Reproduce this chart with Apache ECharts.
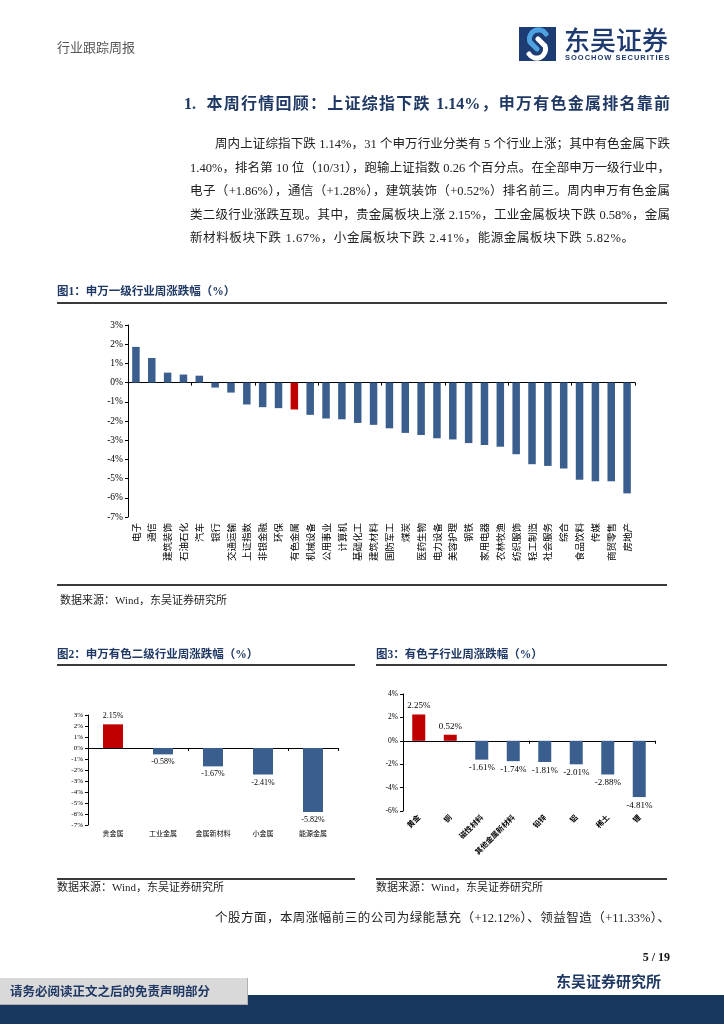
<!DOCTYPE html>
<html>
<head>
<meta charset="utf-8">
<script src="https://cdn.jsdelivr.net/npm/echarts@6/dist/echarts.min.js"></script>
<style>
html,body{margin:0;padding:0;background:#fff;}
body{width:724px;height:1024px;position:relative;overflow:hidden;font-family:"Liberation Serif","Noto Sans CJK SC",serif;}
#chart{position:absolute;left:0;top:0;width:724px;height:1024px;}
.t{position:absolute;white-space:nowrap;z-index:2;}
.j{text-align:justify;text-align-last:justify;}
.rule{position:absolute;background:#3a3a3a;z-index:2;}
.navy{color:#1F3864;}
</style>
</head>
<body>
<div id="chart"></div>

<div class="t" style="left:57px;top:38px;font-size:13px;line-height:18px;color:#555;font-family:'Noto Sans CJK SC';">行业跟踪周报</div>
<svg class="t" style="left:519px;top:27px;" width="37" height="34" viewBox="0 0 37 34">
  <rect width="37" height="34" fill="#1C3C73"/>
  <path d="M27 7 A9 9 0 0 0 11 15 L18 22" stroke="#4FA3E0" stroke-width="5" fill="none" stroke-linecap="round"/>
  <path d="M10 27 A9 9 0 0 0 26 19 L19 12" stroke="#FFFFFF" stroke-width="5" fill="none" stroke-linecap="round"/>
</svg>
<div class="t navy" style="left:564px;top:24px;font-size:26px;line-height:30px;font-family:'Noto Sans CJK SC';font-weight:500;color:#1E3A6E;">东吴证券</div>
<div class="t navy" style="left:565px;top:53px;font-size:7.5px;line-height:9px;font-family:'Liberation Sans';font-weight:bold;letter-spacing:1px;color:#1E3A6E;">SOOCHOW SECURITIES</div>

<div class="t navy j" style="left:184px;width:486px;top:92px;font-size:16px;line-height:24px;font-weight:bold;">1.&nbsp;&nbsp;本周行情回顾：上证综指下跌 1.14%，申万有色金属排名靠前</div>

<div class="t j" style="left:215px;width:455px;top:133px;font-size:12.5px;line-height:22px;color:#222;">周内上证综指下跌 1.14%，31 个申万行业分类有 5 个行业上涨；其中有色金属下跌</div>
<div class="t j" style="left:190px;width:480px;top:156.5px;font-size:12.5px;line-height:22px;color:#222;">1.40%，排名第 10 位（10/31），跑输上证指数 0.26 个百分点。在全部申万一级行业中，</div>
<div class="t j" style="left:190px;width:480px;top:180px;font-size:12.5px;line-height:22px;color:#222;">电子（+1.86%），通信（+1.28%），建筑装饰（+0.52%）排名前三。周内申万有色金属</div>
<div class="t j" style="left:190px;width:480px;top:203.5px;font-size:12.5px;line-height:22px;color:#222;">类二级行业涨跌互现。其中，贵金属板块上涨 2.15%，工业金属板块下跌 0.58%，金属</div>
<div class="t" style="left:190px;top:227px;font-size:12.5px;line-height:22px;color:#222;letter-spacing:0.6px;">新材料板块下跌 1.67%，小金属板块下跌 2.41%，能源金属板块下跌 5.82%。</div>

<div class="t navy" style="left:57px;top:283px;font-size:11.5px;line-height:16px;font-weight:bold;">图1：申万一级行业周涨跌幅（%）</div>
<div class="rule" style="left:57px;top:302px;width:610px;height:2px;"></div>
<div class="rule" style="left:57px;top:584px;width:610px;height:1.5px;"></div>
<div class="t" style="left:60px;top:592px;font-size:11px;line-height:16px;color:#222;">数据来源：Wind，东吴证券研究所</div>

<div class="t navy" style="left:57px;top:646px;font-size:11.5px;line-height:16px;font-weight:bold;">图2：申万有色二级行业周涨跌幅（%）</div>
<div class="rule" style="left:57px;top:664px;width:298px;height:2px;"></div>
<div class="rule" style="left:57px;top:878px;width:298px;height:1.5px;"></div>
<div class="t" style="left:57px;top:879px;font-size:11px;line-height:16px;color:#222;">数据来源：Wind，东吴证券研究所</div>

<div class="t navy" style="left:376px;top:646px;font-size:11.5px;line-height:16px;font-weight:bold;">图3：有色子行业周涨跌幅（%）</div>
<div class="rule" style="left:376px;top:664px;width:291px;height:2px;"></div>
<div class="rule" style="left:376px;top:878px;width:291px;height:1.5px;"></div>
<div class="t" style="left:376px;top:879px;font-size:11px;line-height:16px;color:#222;">数据来源：Wind，东吴证券研究所</div>

<div class="t j" style="left:215px;width:455px;top:907px;font-size:12.5px;line-height:22px;color:#222;">个股方面，本周涨幅前三的公司为绿能慧充（+12.12%）、领益智造（+11.33%）、</div>

<div class="t" style="right:54px;top:949px;font-size:12px;line-height:16px;font-weight:bold;color:#111;">5 / 19</div>
<div class="t navy" style="left:556px;top:971px;font-size:15px;line-height:20px;font-weight:bold;font-family:'Noto Sans CJK SC';">东吴证券研究所</div>

<div style="position:absolute;left:0;top:995px;width:724px;height:29px;background:#17375E;z-index:1;"></div>
<div style="position:absolute;left:0;top:978px;width:247px;height:26px;background:#D9D9D9;border-right:1px solid #b0b0b0;border-bottom:1px solid #b0b0b0;z-index:2;"></div>
<div class="t navy" style="left:10px;top:982px;font-size:12.5px;line-height:18px;font-weight:bold;font-family:'Noto Sans CJK SC';z-index:3;">请务必阅读正文之后的免责声明部分</div>

<script>
// ---- Data ----
const cats1 = ['电子','通信','建筑装饰','石油石化','汽车','银行','交通运输','上证指数','非银金融','环保','有色金属','机械设备','公用事业','计算机','基础化工','建筑材料','国防军工','煤炭','医药生物','电力设备','美容护理','钢铁','家用电器','农林牧渔','纺织服饰','轻工制造','社会服务','综合','食品饮料','传媒','商贸零售','房地产'];
const vals1 = [1.86,1.28,0.52,0.42,0.36,-0.26,-0.52,-1.14,-1.28,-1.33,-1.40,-1.68,-1.87,-1.91,-2.10,-2.20,-2.38,-2.62,-2.73,-2.90,-2.96,-3.15,-3.25,-3.34,-3.73,-4.25,-4.34,-4.48,-5.06,-5.14,-5.14,-5.77];
const highlight1 = '有色金属';
const yTicks1 = {min:-7, max:3, step:1};

const cats2 = ['贵金属','工业金属','金属新材料','小金属','能源金属'];
const vals2 = [2.15,-0.58,-1.67,-2.41,-5.82];
const yTicks2 = {min:-7, max:3, step:1};

const cats3 = ['黄金','铜','磁性材料','其他金属新材料','铅锌','铝','稀土','锂'];
const vals3 = [2.25,0.52,-1.61,-1.74,-1.81,-2.01,-2.88,-4.81];
const yTicks3 = {min:-6, max:4, step:2};

// ---- Styles ----
const BLUE = '#3A5F8E', RED = '#C00000';
const serif = 'Liberation Serif';

const chart = echarts.init(document.getElementById('chart'), null, {renderer:'canvas'});

function zeroAxis(grid, cats){
  return {gridIndex:grid, type:'category', data:cats, position:'bottom',
    axisLine:{onZero:true, lineStyle:{color:'#000', width:1}},
    axisTick:{show:true, length:3, lineStyle:{color:'#000'}},
    axisLabel:{show:false}, splitLine:{show:false}};
}
function labelAxis(grid, cats, lab){
  return {gridIndex:grid, type:'category', data:cats, position:'bottom',
    axisLine:{show:false, onZero:false}, axisTick:{show:false}, splitLine:{show:false},
    axisLabel:Object.assign({interval:0, color:'#000', fontFamily:'Noto Sans CJK SC'}, lab)};
}
function valAxis(grid, t, fs){
  return {gridIndex:grid, type:'value', min:t.min, max:t.max, interval:t.step,
    axisLine:{show:true, lineStyle:{color:'#000', width:1}},
    axisTick:{show:true, length:3, lineStyle:{color:'#000'}},
    splitLine:{show:false},
    axisLabel:{formatter:'{value}%', fontSize:fs, fontFamily:serif, color:'#000', margin:5}};
}
function barData(cats, vals, colorFn){
  return vals.map((v,i)=>({value:v, itemStyle:{color:colorFn(cats[i], v)}}));
}
function labelled(cats, vals, fs, dist){
  return vals.map((v,i)=>({value:v, itemStyle:{color: v>0?RED:BLUE},
    label:{show:true, position: v>=0?'top':'bottom', distance:dist, fontSize:fs, fontFamily:serif, color:'#000',
      formatter: p => p.value.toFixed(2)+'%'}}));
}

chart.setOption({
  animation:false,
  grid:[
    {left:128, top:325, width:507, height:192},
    {left:88, top:715, width:250, height:110},
    {left:403, top:694, width:252, height:117}
  ],
  xAxis:[
    zeroAxis(0, cats1),
    labelAxis(0, cats1, {rotate:90, fontSize:9.5, margin:6}),
    zeroAxis(1, cats2),
    labelAxis(1, cats2, {fontSize:7, margin:5}),
    zeroAxis(2, cats3),
    labelAxis(2, cats3, {rotate:45, fontSize:7.5, fontWeight:'bold', margin:5})
  ],
  yAxis:[
    valAxis(0, yTicks1, 9.5),
    valAxis(1, yTicks2, 7),
    valAxis(2, yTicks3, 7.5)
  ],
  series:[
    {type:'bar', xAxisIndex:0, yAxisIndex:0, barWidth:7.5,
      data: barData(cats1, vals1, (c)=> c===highlight1?RED:BLUE)},
    {type:'bar', xAxisIndex:2, yAxisIndex:1, barWidth:20, data: labelled(cats2, vals2, 8, 4)},
    {type:'bar', xAxisIndex:4, yAxisIndex:2, barWidth:13, data: labelled(cats3, vals3, 9, 4)}
  ]
});
</script>
</body>
</html>
